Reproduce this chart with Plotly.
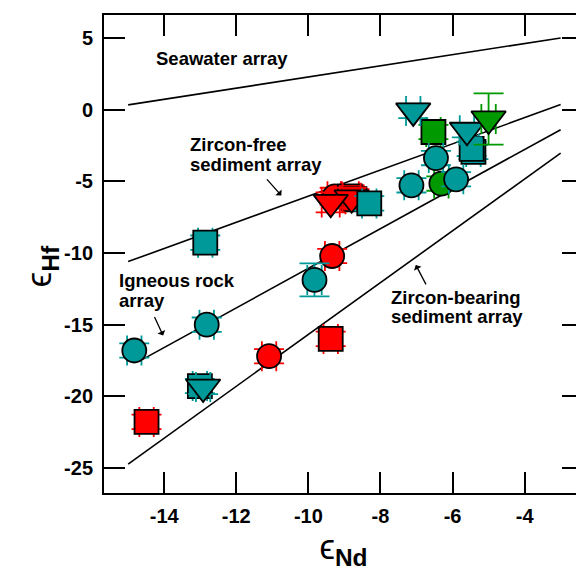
import plotly.graph_objects as go

TEAL = "#009999"
RED = "#ff0000"
GREEN = "#009900"

# ---------------- data (eNd, eHf, errors) ----------------
red_circ_x = [-11.09, -9.34, -9.27]
red_circ_y = [-17.20, -10.21, -6.05]
red_circ_ex = [0.2, 0.2, 0.2]
red_circ_ey = [0.5, 0.5, 0.6]

red_sq_x = [-14.49, -9.38, -8.85, -8.72]
red_sq_y = [-21.78, -15.99, -6.05, -6.25]
red_sq_ex = [0.2, 0.2, 0.25, 0.25]
red_sq_ey = [0.5, 0.5, 0.7, 0.7]

red_tri_x = [-8.80, -9.38]
red_tri_y = [-6.15, -6.47]
red_tri_ex = [0.25, 0.25]
red_tri_ey = [0.7, 0.7]

green_circ_x = [-6.31]
green_circ_y = [-5.16]
green_circ_ex = [0.2]
green_circ_ey = [0.5]

green_sq_x = [-6.53]
green_sq_y = [-1.56]
green_sq_ex = [0.2]
green_sq_ey = [0.5]

teal_sq_x = [-12.86, -13.01, -8.31, -5.42, -5.47]
teal_sq_y = [-9.28, -19.28, -6.54, -2.95, -2.74]
teal_sq_ex = [0.2, 0.2, 0.2, 0.2, 0.2]
teal_sq_ey = [0.5, 0.5, 0.5, 0.5, 0.5]

teal_circ_x = [-14.83, -12.82, -9.83, -6.46, -7.14, -5.90]
teal_circ_y = [-16.80, -15.00, -11.88, -3.38, -5.28, -4.86]
teal_circ_ex = [0.2, 0.2, 0.2, 0.2, 0.2, 0.2]
teal_circ_ey = [0.5, 0.5, 1.15, 0.5, 0.5, 0.5]

teal_tri_x = [-12.92, -7.09, -5.60]
teal_tri_y = [-19.35, -0.09, -1.44]
teal_tri_ex = [0.2, 0.2, 0.2]
teal_tri_ey = [0.5, 0.5, 0.5]

green_tri_x = [-5.00]
green_tri_y = [-0.65]
green_tri_ex = [0.2]
green_tri_ey = [1.79]

# reference arrays (end points)
array_x0 = [-15.0, -15.0, -14.6, -15.0]
array_y0 = [0.33, -10.60, -17.42, -24.72]
array_x1 = [-3.0, -3.0, -3.0, -3.0]
array_y1 = [5.00, 0.35, -1.40, -3.03]

x_ticks = [-14, -12, -10, -8, -6, -4]
x_tick_text = ["-14", "-12", "-10", "-8", "-6", "-4"]
y_ticks = [5, 0, -5, -10, -15, -20, -25]
y_tick_text = ["5", "0", "-5", "-10", "-15", "-20", "-25"]

fig = go.Figure()

for i in range(len(array_x0)):
    fig.add_trace(go.Scatter(
        x=[array_x0[i], array_x1[i]], y=[array_y0[i], array_y1[i]],
        mode="lines", line=dict(color="black", width=1.6),
        showlegend=False, hoverinfo="skip"))

def add_group(xs, ys, exs, eys, color, symbol, size):
    fig.add_trace(go.Scatter(
        x=xs, y=ys, mode="markers",
        marker=dict(symbol=symbol, size=size, color=color,
                    line=dict(color="black", width=1.8)),
        error_x=dict(type="data", array=exs, visible=True, color=color,
                     thickness=1.8, width=15),
        error_y=dict(type="data", array=eys, visible=True, color=color,
                     thickness=1.8, width=15),
        showlegend=False))

add_group(red_circ_x, red_circ_y, red_circ_ex, red_circ_ey, RED, "circle", 24)
add_group(red_sq_x, red_sq_y, red_sq_ex, red_sq_ey, RED, "square", 24)
add_group(red_tri_x, red_tri_y, red_tri_ex, red_tri_ey, RED, "triangle-down", 30)
add_group(green_circ_x, green_circ_y, green_circ_ex, green_circ_ey, GREEN, "circle", 24)
add_group(green_sq_x, green_sq_y, green_sq_ex, green_sq_ey, GREEN, "square", 24)
add_group(teal_sq_x, teal_sq_y, teal_sq_ex, teal_sq_ey, TEAL, "square", 24)
add_group(teal_circ_x, teal_circ_y, teal_circ_ex, teal_circ_ey, TEAL, "circle", 24)
add_group(teal_tri_x, teal_tri_y, teal_tri_ex, teal_tri_ey, TEAL, "triangle-down", 30)
add_group(green_tri_x, green_tri_y, green_tri_ex, green_tri_ey, GREEN, "triangle-down", 30)

FONT = "Liberation Sans, Arial, Helvetica, sans-serif"
TFONT = "Liberation Sans, DejaVu Sans"

labels = [
    ("Seawater array", -14.29, 3.55),
    ("Zircon-free", -13.33, -2.45),
    ("sediment array", -13.33, -3.8),
    ("Igneous rock", -15.3, -11.9),
    ("array", -15.3, -13.3),
    ("Zircon-bearing", -7.76, -13.08),
    ("sediment array", -7.76, -14.4),
]
for txt, x, y in labels:
    fig.add_annotation(x=x, y=y, xref="x", yref="y", text="<b>%s</b>" % txt,
                       showarrow=False, xanchor="left", yanchor="middle",
                       font=dict(family=FONT, size=18.5, color="black"))

arrows = [(-10.75, -5.99, -15.7, -17.6), (-14.03, -15.76, -9.3, -20.0),
          (-7.02, -10.83, 11.0, 21.0)]
for x, y, ax, ay in arrows:
    fig.add_annotation(x=x, y=y, xref="x", yref="y", text="", showarrow=True,
                       ax=ax, ay=ay, arrowhead=1, arrowsize=1.1, arrowwidth=1.3,
                       arrowcolor="black", standoff=0, startstandoff=0)

# y-axis title (placed as a rotated annotation for exact position)
fig.add_annotation(x=-0.131, y=0.475, xref="paper", yref="paper",
                   text="ϵ<sub><b>Hf</b></sub>", showarrow=False, textangle=-90,
                   xanchor="center", yanchor="middle",
                   font=dict(family=TFONT, size=35, color="black"))

axis_common = dict(showline=True, linecolor="black", linewidth=2, mirror="ticks",
                   ticks="inside", ticklen=21, tickwidth=2, tickcolor="black",
                   showgrid=False, zeroline=False,
                   tickfont=dict(family=FONT, size=20, color="black", weight="bold"))

fig.update_xaxes(range=[-15.67, -2.38], tickvals=x_ticks, ticktext=x_tick_text,
                 ticklabelstandoff=4,
                 title=dict(text="ϵ<sub><b>Nd</b></sub>", standoff=0,
                            font=dict(family=TFONT, size=35, color="black")),
                 **axis_common)
fig.update_yaxes(range=[-26.74, 6.6], tickvals=y_ticks, ticktext=y_tick_text,
                 ticklabelstandoff=5, **axis_common)

fig.update_layout(width=584, height=573, margin=dict(l=96, r=9, t=5, b=88),
                  plot_bgcolor="white", paper_bgcolor="white")

fig.write_html("out.html")
